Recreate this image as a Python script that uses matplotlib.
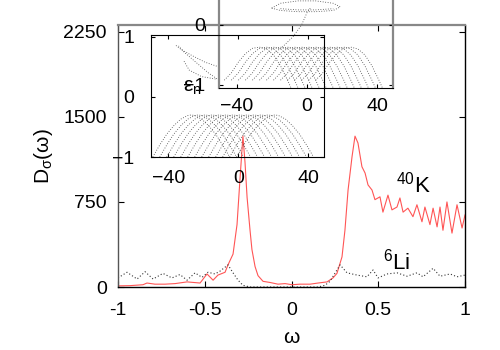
import matplotlib
matplotlib.use('Agg')
import matplotlib.pyplot as plt
import numpy as np

plt.rcParams['font.family'] = ['Liberation Sans', 'DejaVu Sans']
plt.rcParams['mathtext.fontset'] = 'custom'
plt.rcParams['mathtext.rm'] = 'Liberation Sans'
plt.rcParams['mathtext.it'] = 'Liberation Sans'

# main panel: density of states
k_w = [-1.0, -0.93, -0.856, -0.833, -0.787, -0.729, -0.671, -0.602, -0.527, -0.487,
       -0.452, -0.424, -0.383, -0.366, -0.337, -0.314, -0.297, -0.28, -0.268, -0.256,
       -0.239, -0.228, -0.21, -0.193, -0.164, -0.124, -0.078, -0.037, 0.003, 0.049,
       0.107, 0.153, 0.205, 0.239, 0.262, 0.291, 0.308, 0.326, 0.349, 0.366,
       0.383, 0.406, 0.424, 0.441, 0.464, 0.481, 0.51, 0.527, 0.556, 0.579,
       0.608, 0.625, 0.643, 0.671, 0.70, 0.723, 0.752, 0.769, 0.798, 0.816,
       0.839, 0.856, 0.873, 0.896, 0.925, 0.954, 0.983, 1.0]
k_dos = [10, 12, 20, 35, 25, 25, 30, 45, 35, 115,
         60, 105, 130, 195, 290, 550, 950, 1330, 1100, 790,
         500, 330, 180, 100, 50, 40, 25, 30, 20, 25,
         25, 35, 45, 80, 120, 265, 500, 855, 1150, 1330,
         1270, 1060, 1005, 900, 855, 770, 795, 660, 810, 680,
         705, 785, 660, 695, 620, 725, 575, 705, 550, 695,
         530, 705, 500, 750, 475, 725, 520, 635]

li_w = [-1.0, -0.948, -0.89, -0.844, -0.798, -0.741, -0.689, -0.643, -0.602, -0.556,
        -0.516, -0.481, -0.441, -0.412, -0.366, -0.337, -0.308, -0.28, -0.239, 0.153,
        0.193, 0.222, 0.262, 0.28, 0.32, 0.378, 0.435, 0.47, 0.499, 0.55,
        0.608, 0.666, 0.723, 0.758, 0.816, 0.856, 0.914, 0.954, 1.0]
li_dos = [80, 130, 70, 135, 70, 120, 80, 110, 60, 125,
          85, 130, 115, 140, 195, 125, 60, 15, 0, 0,
          15, 50, 150, 195, 125, 105, 90, 150, 80, 115,
          125, 95, 125, 90, 165, 95, 115, 90, 105]

# insets: one dome-shaped band profile, repeated at several shifts
lo_prof_x = [-22, -18, -14, -10, -6, -2, 0, 2, 6, 10, 14, 18, 22]
lo_prof_y = [-1.0, -0.8, -0.62, -0.48, -0.37, -0.31, -0.3, -0.31, -0.37, -0.48, -0.62, -0.8, -1.0]
lo_shifts = [-27, -23, -19, -15, -11, -7, -3, 1, 5, 9, 13, 17, 21]

up_prof_x = [-20, -16, -12, -8, -4, 0, 4, 8, 12, 16, 18]
up_prof_y = [-0.92, -0.8, -0.62, -0.48, -0.39, -0.37, -0.4, -0.5, -0.68, -0.92, -1.05]
up_shifts = [-27, -23, -19, -15, -11, -7, -3, 1, 5, 9, 13, 17, 21, 25]
up_left_x = [[-50, -56, -64, -70, -73], [-50, -58, -66, -72, -75], [-52, -60, -67, -70]]
up_left_y = [[-0.92, -0.8, -0.6, -0.45, -0.35], [-0.7, -0.62, -0.5, -0.4, -0.33], [-0.9, -0.86, -0.75, -0.6]]
up_rise_x = [-14, -8, -3, 0, 2]
up_rise_y = [-0.37, -0.2, 0.0, 0.2, 0.28]
up_loop_x = [-20, -15, -5, 5, 15, 19, 15, 5, -5, -15, -20]
up_loop_y = [0.28, 0.24, 0.22, 0.22, 0.24, 0.3, 0.36, 0.4, 0.4, 0.36, 0.28]

fig = plt.figure(figsize=(5, 3.5), dpi=100)
ax = fig.add_axes([0.236, 0.18, 0.694, 0.7486])
ax.plot(k_w, k_dos, color='#ff5555', lw=0.8)
ax.plot(li_w, li_dos, color='#333333', lw=0.8, ls=(0, (1, 2)))
ax.set_xlim(-1, 1)
ax.set_ylim(0, 2310)
ax.set_xticks([-1, -0.5, 0, 0.5, 1])
ax.set_xticklabels(['-1', '-0.5', '0', '0.5', '1'])
ax.set_yticks([0, 750, 1500, 2250])
ax.tick_params(direction='in', top=True, right=True, labelsize=14, length=4)
ax.tick_params(axis='x', pad=11)
ax.tick_params(axis='y', pad=8)
for s in ax.spines.values():
    s.set_linewidth(1.0)
ax.spines['top'].set_color('#888888')
ax.spines['top'].set_linewidth(1.6)
ax.spines['left'].set_color('#555555')
ax.set_xlabel('ω', fontsize=15, labelpad=6)
ax.set_ylabel('D$_\\sigma$(ω)', fontsize=15, labelpad=6)
ax.text(0.6, 900, '$^{40}$K', fontsize=16, va='center')
ax.text(0.53, 220, '$^{6}$Li', fontsize=16, va='center')

dots = dict(color='#444444', lw=0.6, ls=(0, (1, 2)))

# upper inset (partly off the figure)
ax2 = fig.add_axes([0.438, 0.7486, 0.348, 0.357])
ax2.patch.set_alpha(0)
for s in up_shifts:
    ax2.plot(np.array(up_prof_x) + s, up_prof_y, clip_on=False, **dots)
for xs, ys in zip(up_left_x, up_left_y):
    ax2.plot(xs, ys, clip_on=False, **dots)
ax2.plot(up_rise_x, up_rise_y, clip_on=False, **dots)
ax2.plot(up_loop_x, up_loop_y, clip_on=False, **dots)
ax2.plot(np.array(up_loop_x[1:5]), np.array(up_loop_y[1:5]) + 0.03, clip_on=False, **dots)
ax2.set_xlim(-50, 49)
ax2.set_ylim(-1.05, 1.03)
ax2.set_xticks([-40, 0, 40])
ax2.set_yticks([-1, 0, 1])
ax2.tick_params(direction='in', top=True, right=True, labelsize=14, length=3)
ax2.tick_params(axis='x', pad=7)
ax2.tick_params(axis='y', pad=10)
for side in ['left', 'right', 'top']:
    ax2.spines[side].set_color('#888888')
    ax2.spines[side].set_linewidth(1.6)

# lower inset
ax1 = fig.add_axes([0.302, 0.5514, 0.346, 0.3486])
ax1.patch.set_alpha(0)
for s in lo_shifts:
    ax1.plot(np.array(lo_prof_x) + s, lo_prof_y, **dots)
ax1.set_xlim(-50, 49)
ax1.set_ylim(-1, 1.03)
ax1.set_xticks([-40, 0, 40])
ax1.set_yticks([-1, 0, 1])
ax1.tick_params(direction='in', top=True, right=True, labelsize=14, length=3)
ax1.tick_params(axis='x', pad=9)
ax1.tick_params(axis='y', pad=12)
fig.text(183 / 500, 1 - 88 / 350, 'ε$_n$', fontsize=15, va='center')

fig.savefig('out.png', dpi=100)
